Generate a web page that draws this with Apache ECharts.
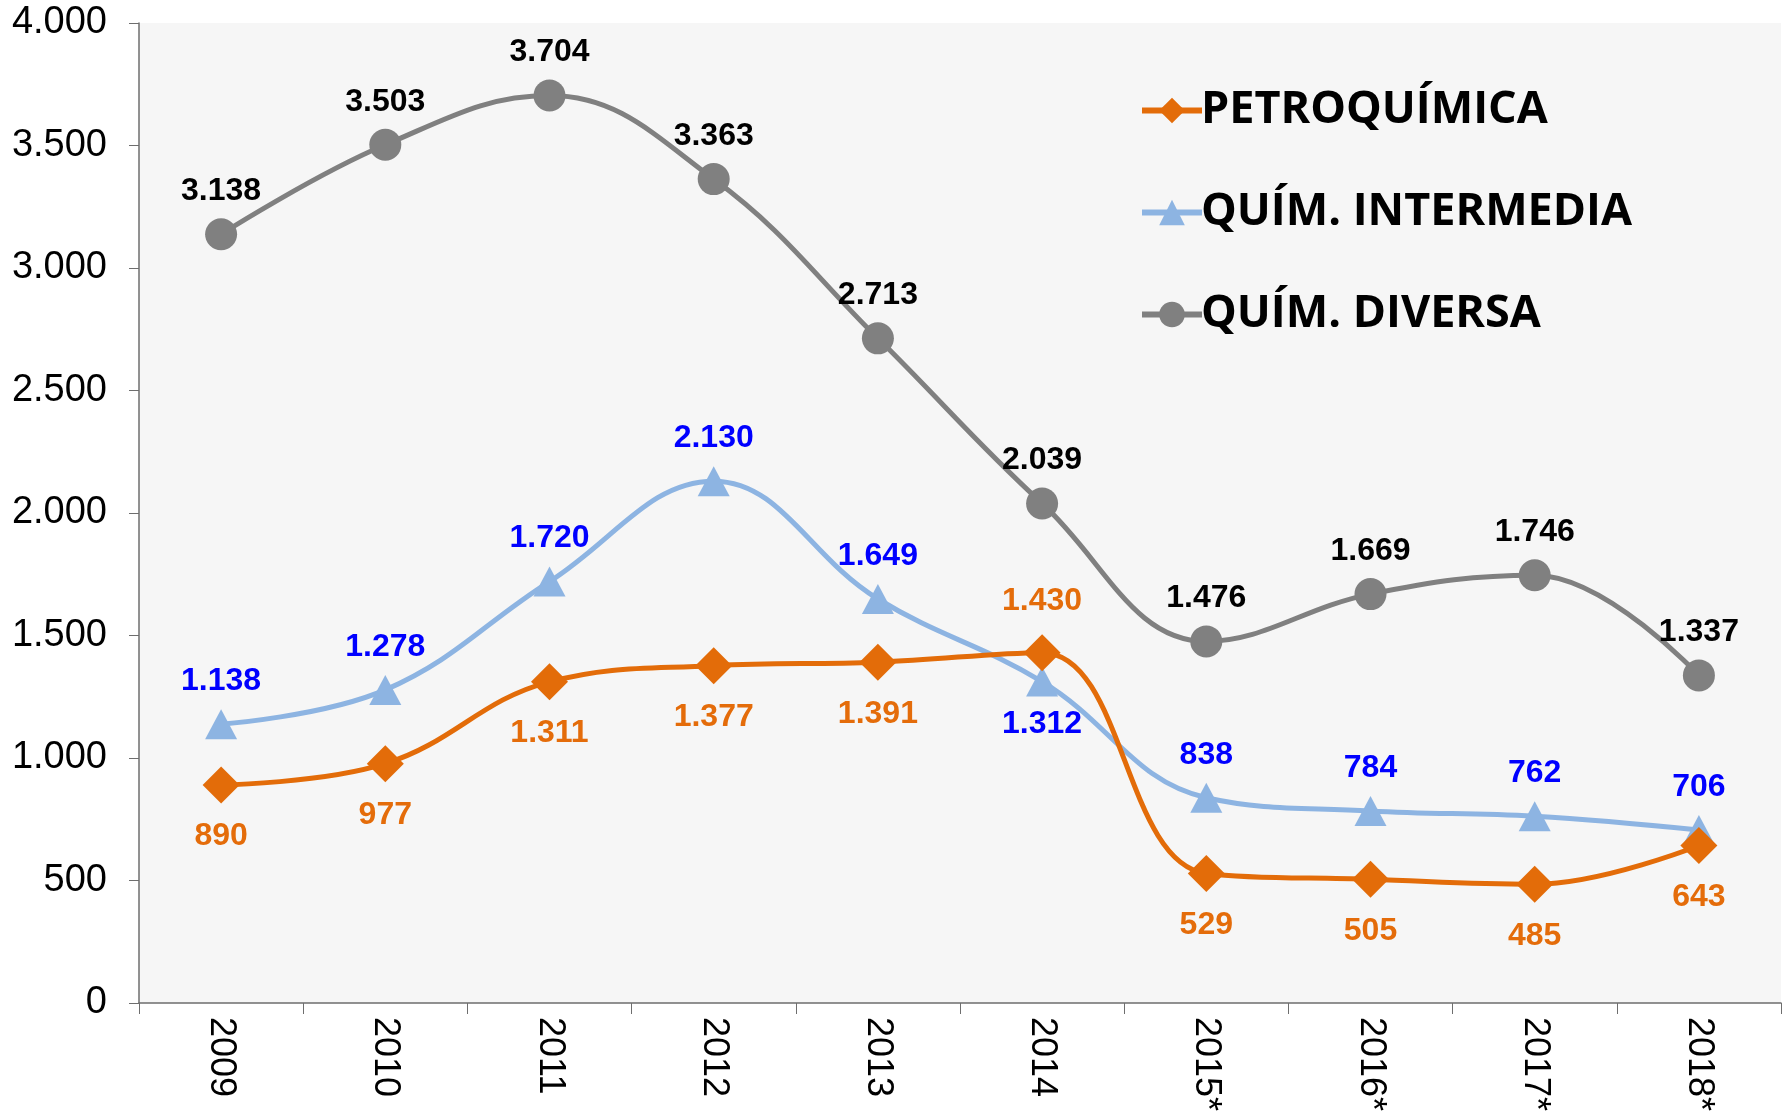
<!DOCTYPE html>
<html>
<head>
<meta charset="utf-8">
<script src="https://cdn.jsdelivr.net/npm/echarts@6/dist/echarts.min.js"></script>
<style>
  html, body { margin: 0; padding: 0; background: #fff; }
  #chart { width: 1788px; height: 1111px; }
</style>
</head>
<body>
<div id="chart"></div>
<script>
// categorias y valores
const years = ['2009', '2010', '2011', '2012', '2013', '2014', '2015*', '2016*', '2017*', '2018*']
const petroquimica = [890, 977, 1311, 1377, 1391, 1430, 529, 505, 485, 643]
const intermedia = [1138, 1278, 1720, 2130, 1649, 1312, 838, 784, 762, 706]
const diversa = [3138, 3503, 3704, 3363, 2713, 2039, 1476, 1669, 1746, 1337]
const yTicks = [0, 500, 1000, 1500, 2000, 2500, 3000, 3500, 4000]

// formato 1.234
function fmt (v) {
  return String(v).replace(/\B(?=(\d{3})+(?!\d))/g, '.')
}

// la etiqueta de 2014 va al lado contrario
function withLabels (values, normalPos, flipPos) {
  return values.map((v, i) => ({
    value: v,
    label: { position: i === 5 ? flipPos : normalPos }
  }))
}

const labelFont = { fontFamily: 'Liberation Sans, Arial', fontWeight: 'bold', fontSize: 32 }

let myChart = echarts.init(document.getElementById('chart'))
myChart.setOption({
  animation: false,
  grid: {
    left: 139,
    right: 7,
    top: 23,
    bottom: 108,
    outerBoundsMode: 'none',
    containLabel: false,
    show: true,
    backgroundColor: '#f6f6f6',
    borderWidth: 0
  },
  legend: {
    orient: 'vertical',
    left: 1134,
    top: 83,
    itemWidth: 60,
    itemHeight: 32,
    itemGap: 57,
    lineStyle: { width: 6 },
    textStyle: {
      fontFamily: 'Open Sans',
      fontWeight: 'bold',
      fontSize: 45,
      color: '#000',
      padding: [0, 0, 0, -6]
    },
    data: ['PETROQUÍMICA', 'QUÍM. INTERMEDIA', 'QUÍM. DIVERSA']
  },
  xAxis: {
    type: 'category',
    data: years,
    boundaryGap: true,
    axisLine: { lineStyle: { color: '#6e6e6e', width: 1.5 } },
    axisTick: { show: true, length: 11, lineStyle: { color: '#6e6e6e' } },
    axisLabel: {
      rotate: -90,
      margin: 14,
      color: '#000',
      fontFamily: 'Liberation Sans, Arial',
      fontSize: 36
    },
    splitLine: { show: false }
  },
  yAxis: {
    type: 'value',
    min: yTicks[0],
    max: yTicks[yTicks.length - 1],
    interval: yTicks[1] - yTicks[0],
    axisLine: { show: true, lineStyle: { color: '#6e6e6e', width: 1.5 } },
    axisTick: { show: true, length: 10, lineStyle: { color: '#6e6e6e' } },
    axisLabel: {
      margin: 32,
      color: '#000',
      fontFamily: 'Liberation Sans, Arial',
      fontSize: 38,
      formatter: fmt
    },
    splitLine: { show: false }
  },
  series: [
    {
      name: 'PETROQUÍMICA',
      type: 'line',
      smooth: 0.4,
      symbol: 'diamond',
      symbolSize: 37,
      color: '#e36c09',
      lineStyle: { width: 5, color: '#e36c09' },
      itemStyle: { color: '#e36c09' },
      label: Object.assign({ show: true, distance: 17, color: '#e46c0a', formatter: p => fmt(p.value) }, labelFont),
      data: withLabels(petroquimica, 'bottom', 'top'),
      z: 3
    },
    {
      name: 'QUÍM. INTERMEDIA',
      type: 'line',
      smooth: 0.4,
      symbol: 'triangle',
      symbolSize: [32, 30],
      color: '#8db4e2',
      lineStyle: { width: 5, color: '#8db4e2' },
      itemStyle: { color: '#8db4e2' },
      label: Object.assign({ show: true, distance: 12, color: '#0000ff', formatter: p => fmt(p.value) }, labelFont),
      data: withLabels(intermedia, 'top', 'bottom'),
      z: 2
    },
    {
      name: 'QUÍM. DIVERSA',
      type: 'line',
      smooth: 0.4,
      symbol: 'circle',
      symbolSize: 32,
      color: '#808080',
      lineStyle: { width: 5, color: '#808080' },
      itemStyle: { color: '#808080' },
      label: Object.assign({ show: true, distance: 11, color: '#000', formatter: p => fmt(p.value) }, labelFont),
      data: withLabels(diversa, 'top', 'top'),
      z: 4
    }
  ]
})
</script>
</body>
</html>
